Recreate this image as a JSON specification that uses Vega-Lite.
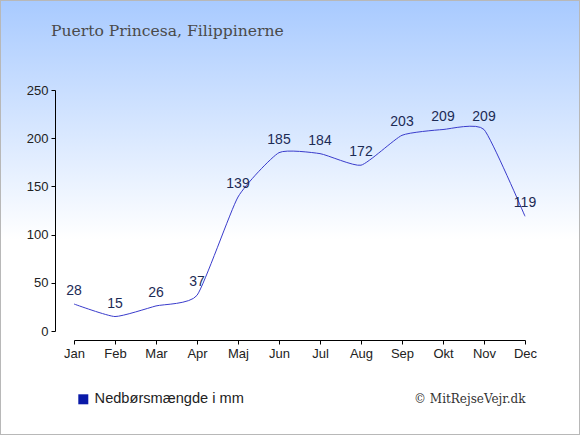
{
  "$schema": "https://vega.github.io/schema/vega-lite/v6.json",
  "width": 580,
  "height": 435,
  "autosize": "none",
  "padding": 0,
  "title": {
    "text": "Puerto Princesa, Filippinerne",
    "anchor": "start",
    "frame": "group",
    "orient": "top",
    "offset": -40,
    "dx": 51,
    "font": "DejaVu Serif",
    "fontSize": 15.6,
    "fontWeight": "normal",
    "color": "#4a4a4a"
  },
  "data": {
    "values": [
      {"month": "Jan", "rain": 28},
      {"month": "Feb", "rain": 15},
      {"month": "Mar", "rain": 26},
      {"month": "Apr", "rain": 37},
      {"month": "Maj", "rain": 139},
      {"month": "Jun", "rain": 185},
      {"month": "Jul", "rain": 184},
      {"month": "Aug", "rain": 172},
      {"month": "Sep", "rain": 203},
      {"month": "Okt", "rain": 209},
      {"month": "Nov", "rain": 209},
      {"month": "Dec", "rain": 119}
    ]
  },
  "encoding": {
    "x": {
      "field": "month",
      "type": "ordinal",
      "sort": null,
      "scale": {"type": "point", "range": [74, 525], "padding": 0},
      "axis": {
        "orient": "bottom",
        "offset": -95,
        "labelAngle": 0,
        "title": "© MitRejseVejr.dk",
        "titleAnchor": "end",
        "titleFont": "DejaVu Serif",
        "titleFontSize": 12,
        "titleFontWeight": "normal",
        "titleColor": "#333",
        "titlePadding": 33
      }
    },
    "y": {
      "field": "rain",
      "type": "quantitative",
      "scale": {"domain": [0, 250], "range": [331, 90], "nice": false},
      "axis": {
        "orient": "left",
        "offset": -55,
        "values": [0, 50, 100, 150, 200, 250],
        "title": null
      }
    }
  },
  "layer": [
    {
      "mark": {"type": "line", "interpolate": "cardinal", "tension": 0.5, "strokeWidth": 1},
      "encoding": {
        "color": {
          "datum": "Nedbørsmængde i mm",
          "scale": {"range": ["#3a3ccc"]},
          "legend": {
            "orient": "none",
            "legendX": 76,
            "legendY": 392,
            "title": null,
            "symbolType": "square",
            "symbolSize": 100,
            "symbolFillColor": "#0a1aa8",
            "symbolStrokeColor": "#0a1aa8",
            "symbolStrokeWidth": 0,
            "labelFont": "Liberation Sans",
            "labelFontSize": 14.6,
            "labelColor": "#222",
            "labelOffset": 4
          }
        }
      }
    },
    {
      "mark": {"type": "text", "dy": -13, "font": "Liberation Sans", "fontSize": 14, "color": "#1c2b55"},
      "encoding": {"text": {"field": "rain", "type": "quantitative"}}
    }
  ],
  "config": {
    "view": {
      "fill": {
        "gradient": "linear",
        "x1": 0, "y1": 0, "x2": 0, "y2": 1,
        "stops": [
          {"offset": 0, "color": "#a8caff"},
          {"offset": 0.55, "color": "#ffffff"},
          {"offset": 1, "color": "#ffffff"}
        ]
      },
      "stroke": "#b8b8b8",
      "strokeWidth": 2
    },
    "axis": {
      "grid": false,
      "domainColor": "#000",
      "tickColor": "#000",
      "tickSize": 4,
      "labelFont": "Liberation Sans",
      "labelFontSize": 13,
      "labelColor": "#222",
      "labelPadding": 3
    }
  }
}
